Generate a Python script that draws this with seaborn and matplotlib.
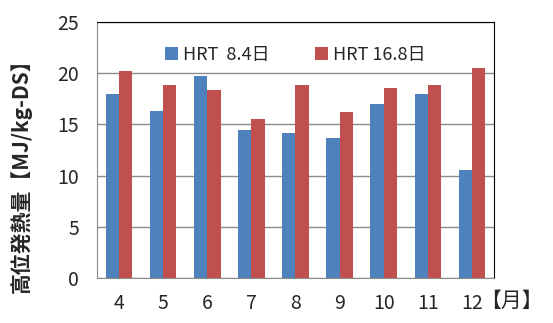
import numpy as np
import pandas as pd
import seaborn as sns
import matplotlib.pyplot as plt

months = ['4', '5', '6', '7', '8', '9', '10', '11', '12']
hrt_84 = [18.0, 16.3, 19.7, 14.5, 14.2, 13.7, 16.95, 18.0, 10.55]
hrt_168 = [20.25, 18.8, 18.4, 15.55, 18.8, 16.2, 18.55, 18.8, 20.5]
series = ['HRT  8.4日', 'HRT 16.8日']

df = pd.DataFrame({
    'month': months * 2,
    'value': hrt_84 + hrt_168,
    'series': [series[0]] * len(months) + [series[1]] * len(months),
})

sns.set_style('white')
plt.rcParams['font.family'] = ['Noto Sans CJK JP', 'DejaVu Sans']

fig = plt.figure(figsize=(5.53, 3.23), dpi=100)
ax = fig.add_axes([0.1754, 0.1393, 0.7179, 0.7926])

sns.barplot(data=df, x='month', y='value', hue='series', order=months,
            palette=['#4F81BD', '#C0504D'], width=0.6, saturation=1,
            edgecolor='none', ax=ax)

ax.set_ylim(0, 25)
ax.set_xlim(-0.5, len(months) - 0.5)
ax.set_yticks(np.arange(0, 26, 5))
ax.yaxis.grid(True, color='#8c8c8c', linewidth=1)
ax.set_axisbelow(True)

# excel-style ticks between categories
ax.set_xticks(np.arange(-0.5, len(months), 1), minor=True)
ax.tick_params(axis='x', which='major', length=0, pad=11, labelsize=14)
ax.tick_params(axis='x', which='minor', length=5, width=1, color='#8c8c8c')
ax.tick_params(axis='y', length=5, width=1, color='#8c8c8c', labelsize=14, pad=8)

for side in ['left', 'bottom']:
    ax.spines[side].set_color('#8c8c8c')
for side in ['top', 'right']:
    ax.spines[side].set_color('black')

ax.set_xlabel('')
ax.set_ylabel('高位発熱量【MJ/kg-DS】', fontsize=15, fontweight='bold')
ax.yaxis.set_label_coords(-0.165, 0.42)
ax.text(1.045, -0.09, '【月】', transform=ax.transAxes, fontsize=15,
        ha='center', va='center')

ax.legend(loc='upper center', ncol=2, frameon=False, fontsize=13,
          bbox_to_anchor=(0.5, 0.97), handlelength=0.7, handleheight=0.7,
          handletextpad=0.3, columnspacing=2.5)

fig.savefig('out.png', dpi=100)
